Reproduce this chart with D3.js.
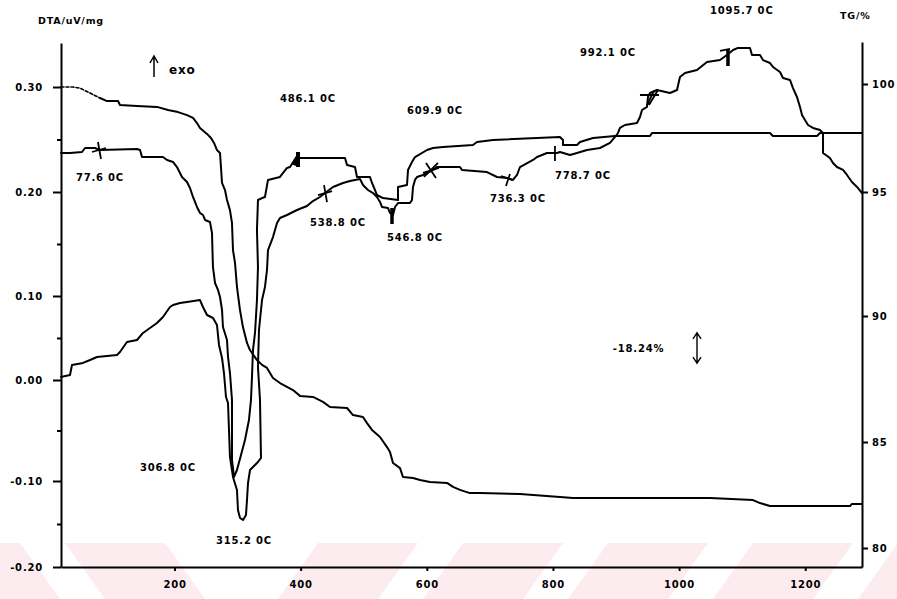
<!DOCTYPE html>
<html>
<head>
<meta charset="utf-8">
<script src="https://cdn.jsdelivr.net/npm/d3@7"></script>
<style>
  html, body { margin: 0; padding: 0; background: #fff; }
  svg { display: block; }
  text { font-family: "DejaVu Sans", sans-serif; font-weight: bold; font-size: 10px; letter-spacing: 0.8px; fill: #000; }
</style>
</head>
<body>
<svg id="chart" width="897" height="599"></svg>
<script>
// ---- Thermal analysis record: temperature (°C) vs DTA (uV/mg) and TG (%) ----

// TG mass curve: [temperature, mass %]
const tgCurve = [
  [20,99.86],[39.0,99.86],[50.1,99.81],[66.0,99.58],[81.8,99.35],[92.9,99.21],[110.4,99.21],[113.5,99.03],
  [140.5,98.98],[172.2,98.94],[189.6,98.80],[205.5,98.70],[219.8,98.56],[229.3,98.43],[235.6,98.19],[240.4,97.96],
  [251.5,97.69],[257.8,97.50],[262.6,97.27],[267.3,96.94],[272.1,96.81],[275.3,95.42],[280.0,95.09],[283.2,94.68],
  [287.9,94.27],[291.1,93.75],[292.7,92.66],[295.9,92.14],[299.0,91.17],[303.8,90.24],[308.5,89.56],[314.9,88.93],
  [319.6,88.65],[330.7,88.25],[338.7,88.06],[346.6,87.94],[356.1,87.54],[367.2,87.34],[387.8,87.06],[398.9,86.83],
  [419.5,86.79],[435.4,86.59],[446.5,86.39],[473.5,86.35],[483.0,86.07],[498.8,85.99],[505.2,85.75],[513.1,85.48],
  [525.8,85.20],[536.9,84.76],[541.6,84.53],[546.4,84.01],[557.5,83.77],[562.2,83.35],[578.1,83.30],[589.2,83.21],
  [605.0,83.11],[632.0,83.07],[641.5,82.88],[652.6,82.74],[668.4,82.59],[684.3,82.59],[747.7,82.55],[811.1,82.41],
  [831.8,82.36],[1049.0,82.36],[1117.2,82.26],[1128.3,82.12],[1144.1,81.98],[1271.0,81.98],[1274.1,82.08],[1290,82.08]
];

// DTA curve starting near 0.24 uV/mg: [temperature, uV/mg]
const dtaUpper = [
  [20,0.2371],[34.3,0.2371],[53.3,0.2381],[58.1,0.2419],[73.9,0.2419],[81.8,0.2400],[140.5,0.2410],[145.3,0.2400],
  [148.4,0.2333],[181.7,0.2333],[188.1,0.2305],[197.6,0.2286],[203.9,0.2238],[211.8,0.2143],[219.8,0.2095],[224.5,0.2038],
  [229.3,0.1952],[235.6,0.1856],[240.4,0.1798],[245.1,0.1779],[248.3,0.1731],[256.2,0.1712],[259.4,0.1606],[260.9,0.1279],
  [264.2,0.1125],[268.9,0.1058],[272.1,0.0988],[275.3,0.0833],[276.8,0.0631],[283.2,0.0476],[284.8,0.0274],[287.9,0.0083],
  [291.1,-0.0198],[291.1,-0.0792],[294.3,-0.0960],[299.0,-0.0891],[305.4,-0.0743],[311.7,-0.0594],[318.0,-0.0396],[321.2,-0.0198],
  [322.8,0.0036],[324.4,0.0357],[327.6,0.0560],[330.7,0.0952],[332.3,0.1279],[330.7,0.1635],[332.3,0.1923],[338.7,0.1942],
  [343.4,0.1952],[348.2,0.2115],[367.2,0.2143],[378.3,0.2229],[383.1,0.2238],[394.2,0.2343],[398.9,0.2324],[470.3,0.2324],
  [473.5,0.2257],[486.1,0.2238],[489.3,0.2143],[509.9,0.2143],[513.1,0.2086],[517.8,0.2019],[521.0,0.1971],[530.5,0.1942],
  [554.3,0.1923],[554.3,0.2048],[568.6,0.2067],[570.2,0.2210],[576.5,0.2286],[581.3,0.2333],[600.3,0.2400],[609.8,0.2419],
  [625.7,0.2429],[673.2,0.2448],[679.6,0.2476],[705.0,0.2495],[811.1,0.2524],[815.9,0.2495],[815.9,0.2448],[838.1,0.2448],
  [842.9,0.2476],[863.5,0.2514],[898.4,0.2533],[953.9,0.2533],[957.0,0.2562],[1144.1,0.2562],[1148.8,0.2533],[1218.6,0.2533],
  [1223.4,0.2562],[1290,0.2562]
];

// DTA curve starting near 0.00 uV/mg: [temperature, uV/mg]
const dtaLower = [
  [20,0.0036],[34.3,0.0060],[37.4,0.0179],[54.9,0.0203],[66.0,0.0238],[77.1,0.0274],[108.8,0.0298],[113.5,0.0333],
  [124.6,0.0452],[140.5,0.0476],[150.0,0.0560],[161.1,0.0619],[172.2,0.0679],[181.7,0.0750],[192.8,0.0869],[197.6,0.0893],
  [208.7,0.0917],[219.8,0.0929],[240.4,0.0952],[245.1,0.0869],[251.5,0.0774],[261.0,0.0738],[267.3,0.0655],[270.5,0.0417],
  [275.3,0.0262],[278.4,0.0083],[281.6,-0.0168],[284.8,-0.0228],[287.9,-0.0762],[292.7,-0.0960],[299.0,-0.1105],[300.6,-0.1337],
  [303.8,-0.1430],[308.6,-0.1453],[313.3,-0.1395],[314.9,-0.1221],[316.5,-0.1023],[319.7,-0.0891],[332.3,-0.0812],[337.1,-0.0772],
  [335.5,-0.0198],[332.3,0.0155],[333.9,0.0595],[338.7,0.0952],[343.4,0.1087],[346.6,0.1250],[348.2,0.1442],[356.1,0.1567],
  [362.5,0.1702],[367.2,0.1750],[378.3,0.1779],[394.2,0.1827],[410.0,0.1865],[419.5,0.1913],[430.6,0.1952],[438.6,0.1990],
  [451.3,0.2048],[467.1,0.2086],[478.2,0.2105],[494.1,0.2124],[498.8,0.2067],[506.7,0.2019],[514.7,0.1990],[521.0,0.1952],
  [525.8,0.1904],[528.9,0.1856],[538.5,0.1846],[541.6,0.1798],[546.4,0.1779],[549.6,0.1856],[554.3,0.1894],[573.3,0.1894],
  [576.5,0.1923],[578.1,0.2048],[581.3,0.2115],[584.4,0.2143],[593.9,0.2162],[600.3,0.2181],[609.8,0.2210],[616.1,0.2238],
  [652.6,0.2238],[655.8,0.2210],[695.4,0.2190],[711.3,0.2143],[727.1,0.2133],[736.6,0.2115],[743.0,0.2162],[747.7,0.2238],
  [768.4,0.2305],[774.7,0.2333],[790.6,0.2371],[806.4,0.2371],[811.2,0.2381],[827.0,0.2352],[838.1,0.2371],[854.0,0.2400],
  [874.6,0.2419],[890.4,0.2467],[898.4,0.2524],[903.1,0.2562],[906.3,0.2610],[914.2,0.2638],[933.2,0.2657],[938.0,0.2714],
  [941.2,0.2781],[949.1,0.2810],[950.7,0.2905],[953.9,0.2943],[964.9,0.2971],[985.6,0.2943],[996.7,0.2971],[1001.4,0.3091],
  [1009.4,0.3127],[1028.4,0.3155],[1044.2,0.3227],[1064.8,0.3245],[1075.9,0.3291],[1085.5,0.3336],[1093.4,0.3355],[1112.4,0.3355],
  [1115.6,0.3291],[1128.3,0.3291],[1133.0,0.3245],[1144.1,0.3218],[1148.9,0.3182],[1160.0,0.3136],[1164.7,0.3082],[1175.8,0.3064],
  [1180.6,0.2990],[1186.9,0.2905],[1191.7,0.2810],[1194.9,0.2733],[1199.6,0.2686],[1204.4,0.2638],[1212.3,0.2610],[1223.4,0.2590],
  [1228.2,0.2562],[1228.2,0.2371],[1239.2,0.2324],[1244.0,0.2276],[1250.3,0.2238],[1259.9,0.2210],[1266.2,0.2162],[1274.1,0.2095],
  [1282.1,0.2048],[1290,0.1990]
];

// Peak / onset annotations on the DTA curves: label, marker temperature, marker DTA value, marker kind
const peakLabels = ["77.6 0C","486.1 0C","538.8 0C","546.8 0C","609.9 0C","736.3 0C","778.7 0C","992.1 0C","1095.7 0C","306.8 0C","315.2 0C"];
const peakAt     = [80.2, 394.2, 438.6, 544.8, 606.6, 727.1, 803.2, 957.0, 1075.9, 294.3, 308.6];
const peakValue  = [0.2400, 0.2324, 0.1990, 0.1798, 0.2210, 0.2133, 0.2371, 0.2905, 0.3291, -0.0960, -0.1453];
const peakKind   = ["cross","flag","cross","bar","bigX","small","tick","zee","seven","none","none"];

// Axis ticks
const xTicks = [200, 400, 600, 800, 1000, 1200];
const dtaTicks = [0.30, 0.20, 0.10, 0.00, -0.10, -0.20];
const dtaMinorTicks = [0.25, 0.15, 0.05, -0.05, -0.15];
const tgTicks = [100, 95, 90, 85, 80];

// Mass change annotation
const massLossText = "-18.24%";
const massLossAt = 895;
const massLossArrowAt = 1028.4;
const massLossSpan = [89.33, 88.13];

// ---- Layout ----
const svg = d3.select("#chart");
const W = 897, H = 599;

const x = d3.scaleLinear().domain([20, 1290]).range([61, 862]);
// the recorder's vertical scales are not evenly spaced; keep the tick positions it printed
const yDta = d3.scaleLinear()
  .domain([-0.2, -0.1, 0, 0.1, 0.2, 0.3, 0.34])
  .range([567, 481, 380, 296, 192, 87, 43]);
const yTg = d3.scaleLinear()
  .domain([79.1, 80, 85, 90, 95, 100, 101.94])
  .range([567, 548, 442, 316, 192, 84, 42]);

// faint diagonal watermark band along the bottom
const band = svg.append("g").attr("class", "watermark");
const bandTop = 543, bandBottom = H;
const backStripes = [-80, 65];
const fwdStripes = [318, 463, 608, 753, 898];
backStripes.forEach(x0 => {
  band.append("path")
    .attr("d", `M${x0},${bandTop}H${x0 + 100}L${x0 + 140},${bandBottom}H${x0 + 40}Z`)
    .attr("fill", "#fdecef");
});
fwdStripes.forEach(x0 => {
  band.append("path")
    .attr("d", `M${x0},${bandTop}H${x0 + 100}L${x0 + 60},${bandBottom}H${x0 - 40}Z`)
    .attr("fill", "#fdecef");
});

// ---- Axes ----
const fmtDta = d => (d < 0 ? "-" : "") + Math.abs(d).toFixed(2);

function styleAxis(g) {
  g.selectAll("path.domain").attr("stroke", "#000").attr("stroke-width", 2);
  g.selectAll(".tick line").attr("stroke", "#000").attr("stroke-width", 2);
  g.selectAll(".tick text").attr("fill", "#000");
}

svg.append("g")
  .attr("transform", "translate(61,0)")
  .call(d3.axisLeft(yDta).tickValues(dtaMinorTicks).tickSize(4).tickSizeOuter(0).tickFormat(""))
  .call(g => g.select("path.domain").remove())
  .call(styleAxis);

svg.append("g")
  .attr("transform", "translate(61,0)")
  .call(d3.axisLeft(yDta).tickValues(dtaTicks).tickSize(8).tickSizeOuter(0).tickPadding(10).tickFormat(fmtDta))
  .call(styleAxis);

svg.append("g")
  .attr("transform", "translate(862,0)")
  .call(d3.axisRight(yTg).tickValues(tgTicks).tickSize(6).tickSizeOuter(0).tickPadding(4).tickFormat(d3.format("d")))
  .call(styleAxis);

svg.append("g")
  .attr("transform", "translate(0,567)")
  .call(d3.axisBottom(x).tickValues(xTicks).tickSize(4).tickSizeOuter(0).tickPadding(10).tickFormat(d3.format("d")))
  .call(styleAxis);

// axis titles
svg.append("text").attr("x", 38).attr("y", 24).style("font-size", "9.5px").text("DTA/uV/mg");
svg.append("text").attr("x", 840).attr("y", 19).style("font-size", "9.5px").text("TG/%");

// ---- Curves ----
const plot = svg.append("g").attr("fill", "none").attr("stroke", "#000")
  .attr("stroke-linejoin", "round").attr("stroke-linecap", "round");

const dtaLine = d3.line().x(d => x(d[0])).y(d => yDta(d[1]));
const tgLine = d3.line().x(d => x(d[0])).y(d => yTg(d[1]));

// the TG trace is dotted until the recorder settles
const tgSettle = 4;
plot.append("path").attr("d", tgLine(tgCurve.slice(0, tgSettle + 1)))
  .attr("stroke-width", 1.6).attr("stroke-dasharray", "3,2");
plot.append("path").attr("d", tgLine(tgCurve.slice(tgSettle))).attr("stroke-width", 2);
plot.append("path").attr("d", dtaLine(dtaUpper)).attr("stroke-width", 2);
plot.append("path").attr("d", dtaLine(dtaLower)).attr("stroke-width", 2);

// ---- Peak markers and labels ----
const markerPaths = {
  cross: "M-1,-8L2,9M-7,2L7,-2",
  small: "M-6,-2L6,2M3,-4L-1,8",
  tick: "M0,-7V8",
  bigX: "M-7,7L7,-7M-5,-7L5,8M-8,3L8,-2",
  zee: "M-12,-2H7M6,-7L-3,8M2,-6L-5,8",
  seven: "M-7,-4L3,-6",
  bar: "M0,-5V11",
  flag: "",
  none: ""
};
const labelOffset = [
  [-23, 31], [-17, -56], [-15, 33], [-5, 28], [-24, -56], [-17, 24],
  [0, 26], [-72, -41], [-17, -41], [-94, -6], [-27, 24]
];

const marks = svg.append("g");
peakLabels.forEach((label, i) => {
  const px = x(peakAt[i]), py = yDta(peakValue[i]);
  const g = marks.append("g").attr("transform", `translate(${px},${py})`);
  const kind = peakKind[i];
  if (markerPaths[kind]) {
    g.append("path").attr("d", markerPaths[kind]).attr("fill", "none")
      .attr("stroke", "#000").attr("stroke-width", kind === "bar" ? 3.5 : 1.8);
  }
  if (kind === "flag") {
    g.append("path").attr("d", "M-1,-6H3V9H-1ZM-1,0L-6,6L-1,8Z").attr("fill", "#000");
  }
  if (kind === "seven") {
    g.append("path").attr("d", "M1,-6L1,11").attr("stroke", "#000").attr("stroke-width", 3.5);
  }
  marks.append("text")
    .attr("x", px + labelOffset[i][0])
    .attr("y", py + labelOffset[i][1])
    .text(label);
});

// ---- exo direction ----
const exo = svg.append("g");
exo.append("path").attr("d", "M154,77V57M150,63L154,56L158,63")
  .attr("fill", "none").attr("stroke", "#000").attr("stroke-width", 1.5);
exo.append("text").attr("x", 169).attr("y", 74).style("font-size", "12px").text("exo");

// ---- Mass loss annotation ----
const mx = x(massLossAt);
const ax = x(massLossArrowAt);
const ay0 = yTg(massLossSpan[0]), ay1 = yTg(massLossSpan[1]);
svg.append("text").attr("x", mx).attr("y", (ay0 + ay1) / 2 + 4).text(massLossText);
svg.append("path")
  .attr("d", `M${ax},${ay0}V${ay1}M${ax - 4},${ay0 + 6}L${ax},${ay0}L${ax + 4},${ay0 + 6}M${ax - 4},${ay1 - 6}L${ax},${ay1}L${ax + 4},${ay1 - 6}`)
  .attr("fill", "none").attr("stroke", "#000").attr("stroke-width", 1.4);
</script>
</body>
</html>
